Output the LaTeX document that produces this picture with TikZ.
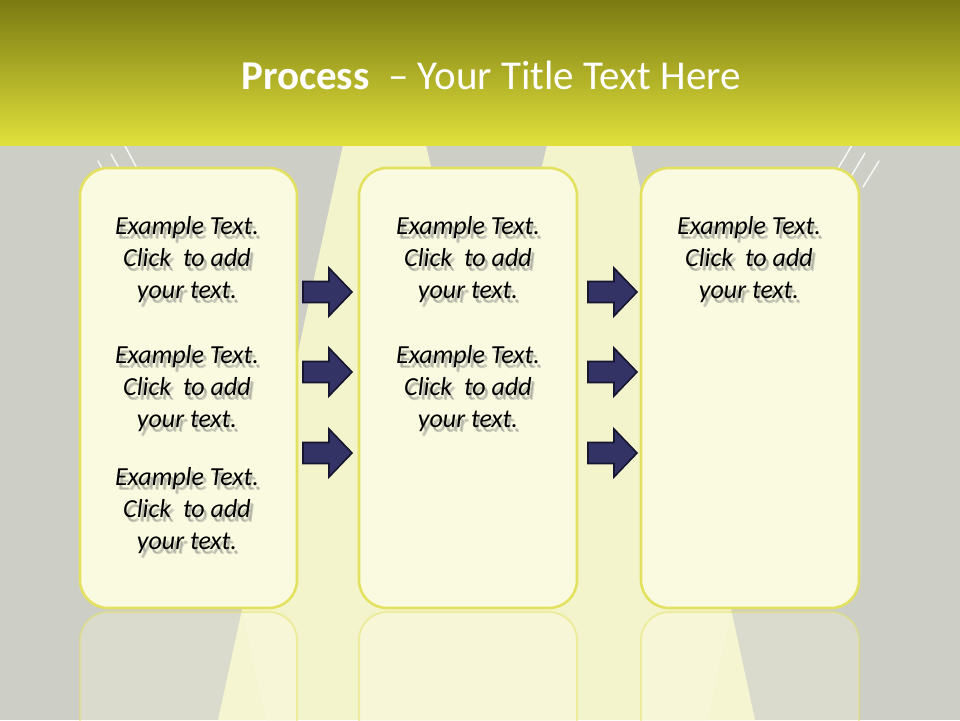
\documentclass[tikz,border=0pt]{standalone}
\usepackage{fontspec}
\setmainfont{Carlito}
\definecolor{bggray}{RGB}{205,206,198}
\definecolor{beamcol}{RGB}{243,244,204}
\definecolor{boxfill}{RGB}{250,250,224}
\definecolor{boxline}{RGB}{226,226,96}
\definecolor{navy}{RGB}{51,51,102}
\definecolor{navyline}{RGB}{22,22,48}
\definecolor{hdtop}{RGB}{122,122,18}
\definecolor{hdbot}{RGB}{224,224,60}
\tikzset{
  stagebox/.style={draw=boxline, line width=2.6pt, fill=boxfill, rounded corners=28pt},
  reflbox/.style={draw=boxline, draw opacity=0.45, line width=2pt, rounded corners=28pt},
  streak/.style={draw=white, line width=1.5pt, opacity=0.85, line cap=round},
  blockarrow/.style={fill=navy, draw=navyline, line width=1.6pt, line join=miter},
  bodytext/.style={align=center, font=\fontsize{26}{32}\selectfont\itshape, text=black, inner sep=0pt},
  shadowtext/.style={bodytext, text=black!55, text opacity=0.33},
}
\newcommand{\blockarrowat}[2]{%
  \draw[blockarrow] (#1,#2-10.5) -- (#1+26,#2-10.5) -- (#1+26,#2-24) -- (#1+49,#2)
    -- (#1+26,#2+24) -- (#1+26,#2+10.5) -- (#1,#2+10.5) -- cycle;}
\newcommand{\exampletext}{Example Text.\\Click~ to add\\your text.}
\begin{document}
\begin{tikzpicture}[x=1pt,y=-1pt]
\useasboundingbox (0,0) rectangle (960,720);
% background
\fill[bggray] (0,0) rectangle (960,720);
% spotlight beams
\fill[beamcol] (343,145) -- (426,145) -- (560,720) -- (218,720) -- cycle;
\fill[beamcol] (547,145) -- (631,145) -- (755,720) -- (410,720) -- cycle;
% light streaks
\draw[streak] (98,161) -- (104,172);
\draw[streak] (111,154) -- (121,172);
\draw[streak] (125,146) -- (139,172);
\draw[streak] (852,145) -- (836,172);
\draw[streak] (865,153) -- (849,180);
\draw[streak] (879,161) -- (863,187);
% header band
\shade[top color=hdtop, bottom color=hdbot] (0,0) rectangle (960,145);
\node[text=white, font=\fontsize{41}{48}\selectfont] (title) at (491,75)
  {\textbf{Process}~ – Your Title Text Here};
% reflections
\foreach \xa/\xb in {80/297, 359/577, 641/859}{
  \begin{scope}
    \clip[rounded corners=28pt] (\xa,612) rectangle (\xb,760);
    \fill[boxfill, opacity=0.3] (\xa,612) rectangle (\xb,760);
    \fill[boxfill, opacity=0.4] (343,1075) -- (631,1075) -- (755,500) -- (218,500) -- cycle;
  \end{scope}
  \draw[reflbox] (\xa,612) rectangle (\xb,760);
}
% boxes
\draw[stagebox] (80,168) rectangle (297,608);
\draw[stagebox] (359,168) rectangle (577,608);
\draw[stagebox] (641,168) rectangle (859,608);
% arrows
\foreach \ya in {292,372,453}{
  \blockarrowat{303}{\ya}
  \blockarrowat{588}{\ya}
}
% texts with soft drop shadow
\foreach \px/\py/\nm in {187/260/ta, 187/389/tb, 187/511/tc, 468/260/td, 468/389/te, 749/260/tf}{
  \node[shadowtext] (\nm s) at (\px+2.5,\py+3.5) {\exampletext};
  \node[shadowtext] (\nm t) at (\px+3.5,\py+4.5) {\exampletext};
  \node[bodytext] (\nm) at (\px,\py) {\exampletext};
}
\end{tikzpicture}
\end{document}
